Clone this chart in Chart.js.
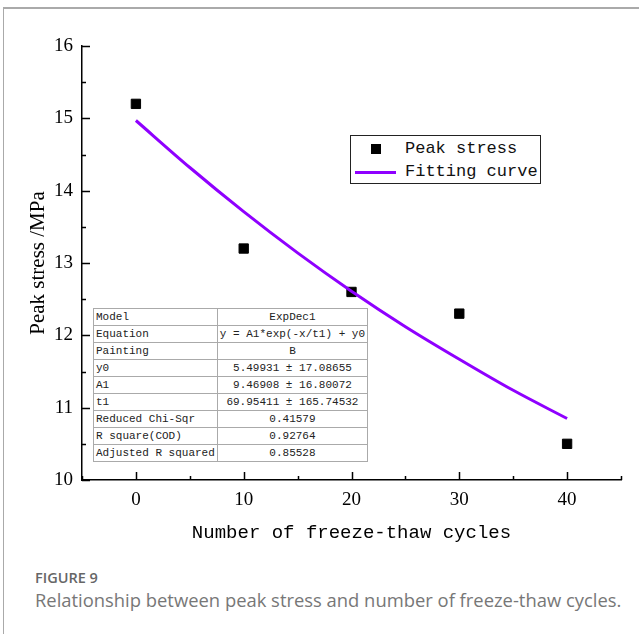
<!DOCTYPE html>
<html lang="en">
<head>
    <meta charset="UTF-8">
    <title>Peak stress vs freeze-thaw cycles</title>
    <script src="https://cdn.jsdelivr.net/npm/chart.js@4.4.1/dist/chart.umd.min.js"></script>
    <style>
        * { margin: 0; padding: 0; box-sizing: border-box; }
        body { width: 639px; height: 634px; background: #fff; position: relative; overflow: hidden; }
        .frame { position: absolute; left: 3px; top: 7px; right: -2px; bottom: -2px; border-top: 2px solid #aaa; border-left: 1px solid #aaa; }
        .chart-box { position: absolute; left: 0; top: 0; width: 639px; height: 560px; }
        .legend {
            position: absolute; left: 350px; top: 135px; width: 191px; height: 49px;
            border: 1px solid #222; background: #fff;
            font-family: "Liberation Mono", monospace; font-size: 17px; color: #111;
        }
        .legend .row { position: absolute; left: 0; height: 24px; line-height: 24px; }
        .legend .txt { position: absolute; left: 54px; white-space: nowrap; }
        .legend .sq { position: absolute; left: 20px; top: 7px; width: 10px; height: 10px; background: #000; }
        .legend .ln { position: absolute; left: 4px; top: 11px; width: 41px; height: 3px; background: #8f00ff; }
        table.stats {
            position: absolute; left: 93px; top: 308px; width: 270px;
            border-collapse: collapse; background: #fff;
            font-family: "Liberation Mono", monospace; font-size: 11px; color: #222;
            border: 1px solid #444;
        }
        table.stats td { border: 1px solid #aaa; height: 17px; line-height: 15px; padding: 0 2px; white-space: nowrap; }
        table.stats td:first-child { width: 120px; }
        table.stats td:last-child { text-align: center; }
        .caption { position: absolute; left: 35px; top: 568px; font-family: "Open Sans", sans-serif; color: #666; }
        .caption .fig { font-size: 14.5px; font-weight: 600; color: #666; line-height: 20px; }
        .caption .desc { font-size: 18.4px; font-weight: 400; color: #777; line-height: 24px; }
    </style>
</head>
<body>
    <div class="frame"></div>
    <div class="chart-box"><canvas id="chart"></canvas></div>

    <div class="legend">
        <div class="row" style="top:1px; width:100%"><span class="sq"></span><span class="txt">Peak stress</span></div>
        <div class="row" style="top:24px; width:100%"><span class="ln"></span><span class="txt">Fitting curve</span></div>
    </div>

    <table class="stats">
        <tr><td>Model</td><td>ExpDec1</td></tr>
        <tr><td>Equation</td><td>y = A1*exp(-x/t1) + y0</td></tr>
        <tr><td>Painting</td><td>B</td></tr>
        <tr><td>y0</td><td>5.49931 ± 17.08655</td></tr>
        <tr><td>A1</td><td>9.46908 ± 16.80072</td></tr>
        <tr><td>t1</td><td>69.95411 ± 165.74532</td></tr>
        <tr><td>Reduced Chi-Sqr</td><td>0.41579</td></tr>
        <tr><td>R square(COD)</td><td>0.92764</td></tr>
        <tr><td>Adjusted R squared</td><td>0.85528</td></tr>
    </table>

    <div class="caption">
        <div class="fig">FIGURE 9</div>
        <div class="desc">Relationship between peak stress and number of freeze-thaw cycles.</div>
    </div>

    <script>
        // measured points
        const cycles = [0, 10, 20, 30, 40];
        const peakStress = [15.2, 13.2, 12.6, 12.3, 10.5];

        // fitted curve
        const fitX = [0, 5, 10, 15, 20, 25, 30, 35, 40];
        const fitY = [14.97, 14.32, 13.71, 13.14, 12.61, 12.12, 11.67, 11.24, 10.85];

        const xTicks = [0, 10, 20, 30, 40];
        const xMinorTicks = [-5, 5, 15, 25, 35, 45];
        const yTicks = [10, 11, 12, 13, 14, 15, 16];
        const yMinorTicks = [10.5, 11.5, 12.5, 13.5, 14.5, 15.5];

        // inward tick marks, like the original plot
        const innerTicks = {
            id: 'innerTicks',
            afterDraw(chart) {
                const { ctx, scales: { x, y } } = chart;
                ctx.save();
                ctx.strokeStyle = '#000';
                ctx.lineWidth = 1.5;
                ctx.beginPath();
                const drawX = (vals, len) => vals.forEach(v => {
                    const px = Math.round(x.getPixelForValue(v)) + 0.5;
                    ctx.moveTo(px, y.bottom);
                    ctx.lineTo(px, y.bottom - len);
                });
                const drawY = (vals, len) => vals.forEach(v => {
                    const py = Math.round(y.getPixelForValue(v)) + 0.5;
                    ctx.moveTo(x.left, py);
                    ctx.lineTo(x.left + len, py);
                });
                drawX(xTicks, 8);
                drawX(xMinorTicks, 4);
                drawY(yTicks, 8);
                drawY(yMinorTicks, 4);
                ctx.stroke();
                ctx.restore();
            }
        };

        new Chart(document.getElementById('chart'), {
            type: 'scatter',
            data: {
                datasets: [
                    {
                        label: 'Fitting curve',
                        data: fitX.map((v, i) => ({ x: v, y: fitY[i] })),
                        showLine: true,
                        borderColor: '#8f00ff',
                        borderWidth: 3,
                        pointRadius: 0,
                        cubicInterpolationMode: 'monotone'
                    },
                    {
                        label: 'Peak stress',
                        data: cycles.map((v, i) => ({ x: v, y: peakStress[i] })),
                        pointStyle: 'rect',
                        pointRadius: 6.6,
                        backgroundColor: '#000',
                        borderColor: '#000',
                        borderWidth: 1
                    }
                ]
            },
            options: {
                responsive: true,
                maintainAspectRatio: false,
                animation: false,
                events: [],
                layout: { padding: { left: 0, top: 46, right: 18, bottom: 0 } },
                plugins: {
                    legend: { display: false },
                    tooltip: { enabled: false }
                },
                scales: {
                    x: {
                        type: 'linear',
                        min: -5,
                        max: 45,
                        grid: { display: false, drawTicks: false },
                        border: { display: true, color: '#000', width: 1.5 },
                        afterBuildTicks: s => { s.ticks = xTicks.map(v => ({ value: v })); },
                        afterFit: s => { s.height = 80; },
                        ticks: {
                            padding: 9,
                            color: '#000',
                            font: { family: 'Liberation Serif', size: 19 }
                        },
                        title: {
                            display: true,
                            text: 'Number of freeze-thaw cycles',
                            color: '#000',
                            font: { family: 'Liberation Mono', size: 19 },
                            padding: { top: 0, bottom: 16 }
                        }
                    },
                    y: {
                        min: 10,
                        max: 16,
                        grid: { display: false, drawTicks: false },
                        border: { display: true, color: '#000', width: 1.5 },
                        afterBuildTicks: s => { s.ticks = yTicks.map(v => ({ value: v })); },
                        afterFit: s => { s.width = 82; },
                        ticks: {
                            padding: 9,
                            color: '#000',
                            font: { family: 'Liberation Serif', size: 19 }
                        },
                        title: {
                            display: true,
                            text: 'Peak stress /MPa',
                            color: '#000',
                            font: { family: 'Liberation Serif', size: 21 },
                            padding: { top: 26, bottom: 0 }
                        }
                    }
                }
            },
            plugins: [innerTicks]
        });
    </script>
</body>
</html>
